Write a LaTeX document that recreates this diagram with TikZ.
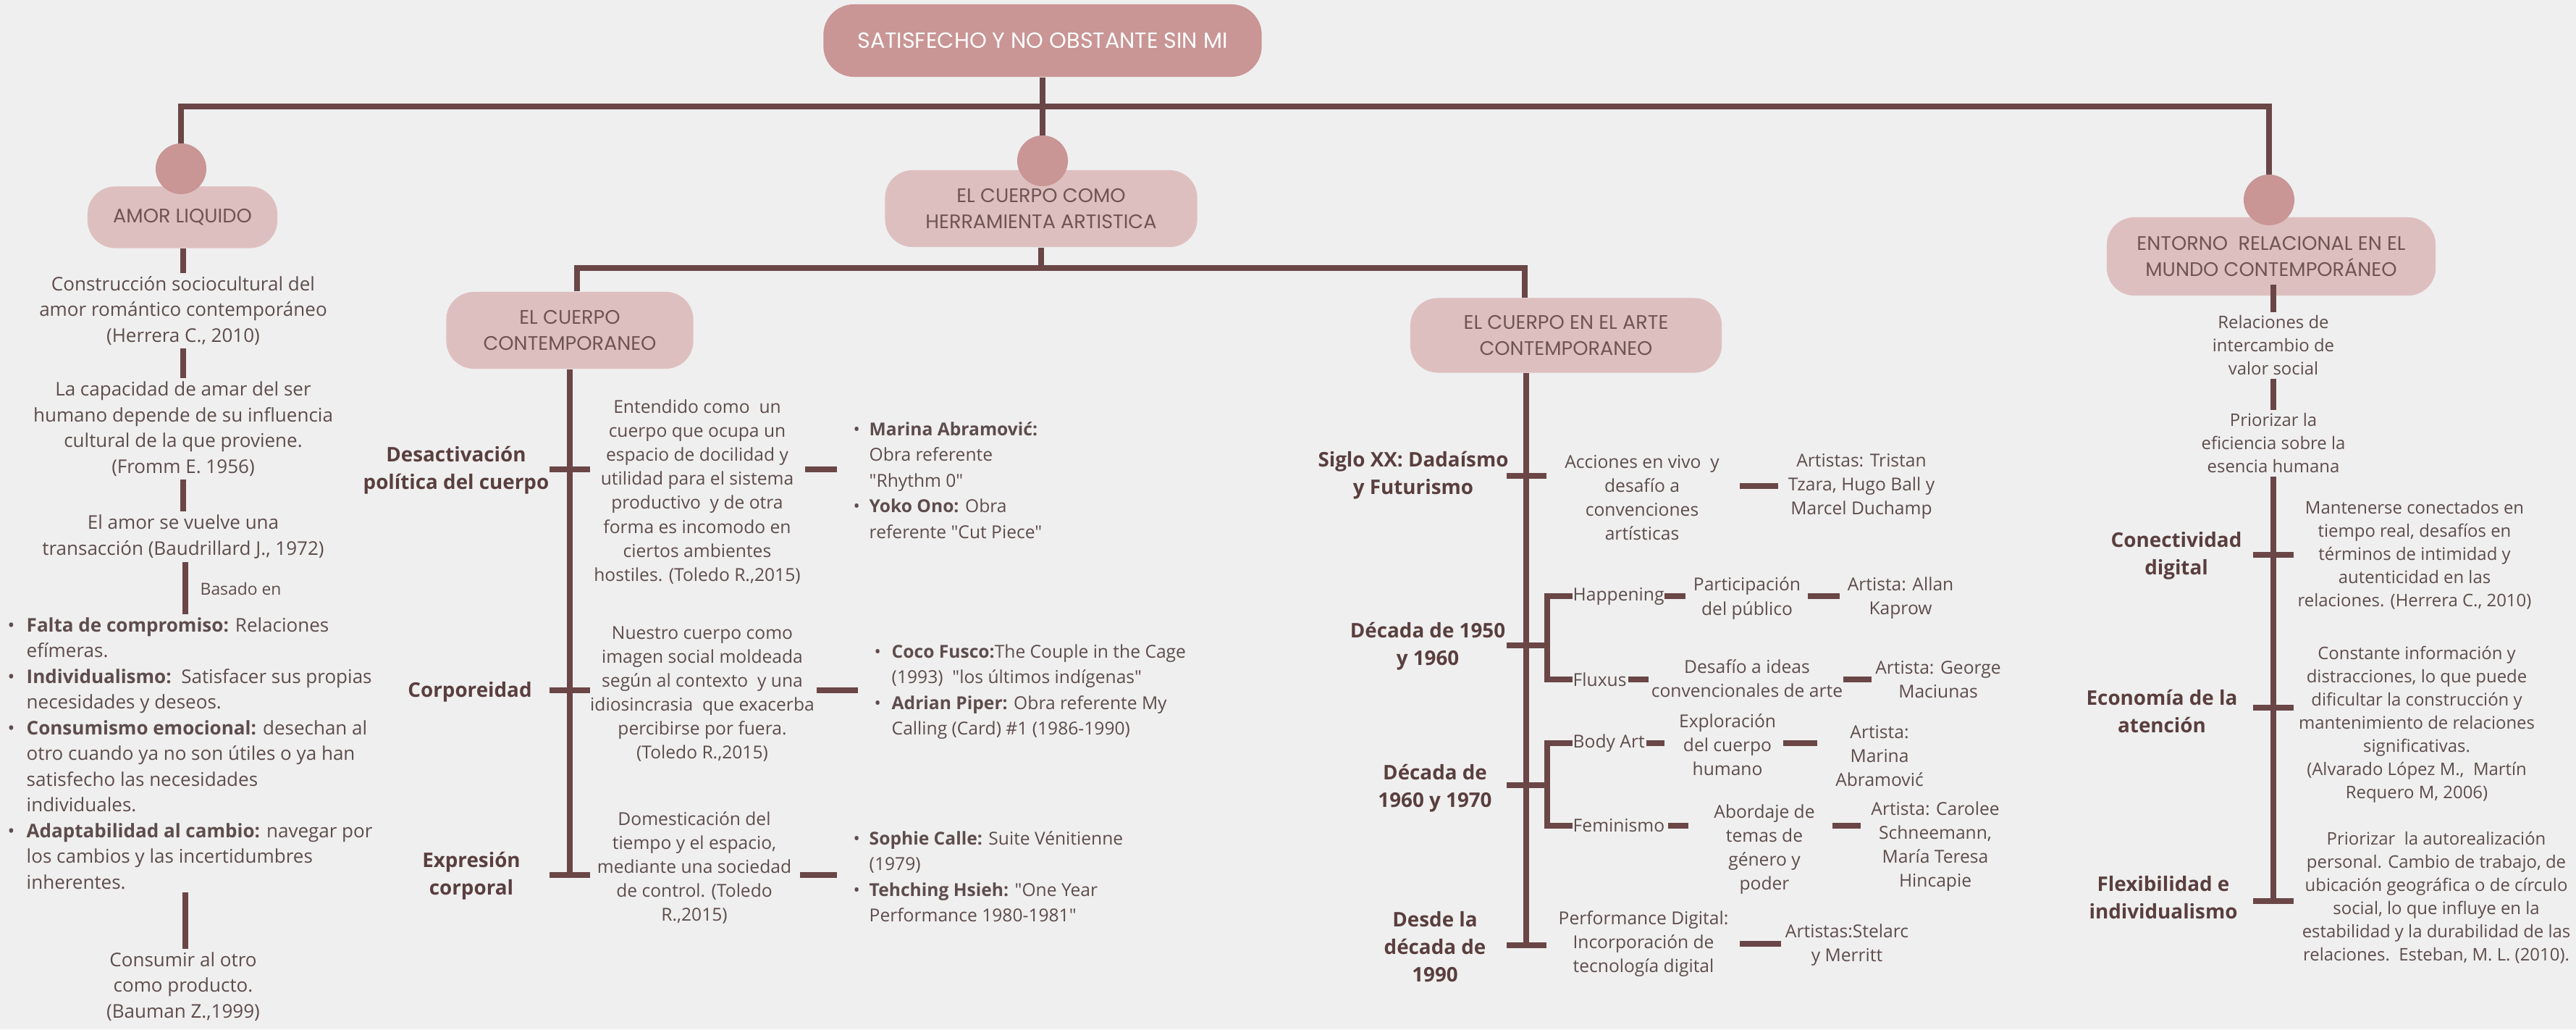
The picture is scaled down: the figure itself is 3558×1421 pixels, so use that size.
\documentclass[tikz,border=0pt]{standalone}
\usepackage{fontspec}
\setmainfont{Open Sans}[Ligatures=TeXOff]
\newfontfamily\titulofont{Poppins}
\definecolor{fondo}{RGB}{239,239,239}
\definecolor{rosaosc}{RGB}{201,149,149}
\definecolor{rosacla}{RGB}{222,191,191}
\definecolor{linea}{RGB}{106,70,70}
\definecolor{texto}{RGB}{94,76,76}
\definecolor{textobox}{RGB}{112,84,84}
\definecolor{textoetiq}{RGB}{90,62,62}
\newcommand{\vineta}[1][0.26cm]{\makebox[#1][l]{\textbullet}}
\newcommand{\sangria}[1][0.26cm]{\hspace*{#1}}

\begin{document}
\begin{tikzpicture}[x=0.01cm,y=-0.01cm,
	raiz/.style={fill=rosaosc,text=white,rounded corners=0.42cm,minimum width=6.05cm,minimum height=1cm,inner sep=0pt,font=\titulofont\fontsize{8.6}{9}\selectfont},
	tema/.style={fill=rosacla,text=textobox,rounded corners=0.38cm,align=center,inner sep=0pt,font=\titulofont\fontsize{7.7}{10}\selectfont},
	bola/.style={circle,fill=rosaosc,minimum size=0.7cm,inner sep=0pt},
	rama/.style={draw=linea,line width=2.1pt},
	guion/.style={draw=linea,line width=2.2pt},
	enlace/.style 2 args={guion,shorten <=#1,shorten >=#2},
	txt/.style={text=texto,align=center,inner xsep=0pt,inner ysep=0.04cm},
	izq/.style={txt,font=\fontsize{7.4}{10.1}\selectfont},
	cen/.style={txt,font=\fontsize{7}{9.4}\selectfont},
	obra/.style={txt,align=left,anchor=west,font=\fontsize{7}{10.1}\selectfont},
	der/.style={txt,font=\fontsize{6.8}{9.1}\selectfont},
	etiq/.style={txt,text=textoetiq,font=\bfseries\fontsize{7.9}{10.9}\selectfont}]

	\fill[fondo] (0,0) rectangle (3558,1421);
	\useasboundingbox (0,0) rectangle (3558,1421);

	\node[raiz] (raiz) at (1440,56) {SATISFECHO Y NO OBSTANTE SIN MI};
	\coordinate (cA) at (250,233);
	\coordinate (cB) at (1440,222);
	\coordinate (cC) at (3134,276);
	\coordinate (busI) at (250,147);
	\coordinate (busD) at (3134,147);
	\draw[rama] (cA) -- (busI) -- (busD) -- (cC);
	\draw[rama] (raiz.south) -- (cB);

	\node[tema,minimum width=2.62cm,minimum height=0.85cm] (amor) at (252,300) {AMOR LIQUIDO};
	\node[tema,minimum width=4.31cm,minimum height=1.06cm] (herram) at (1438,288) {EL CUERPO COMO\\HERRAMIENTA ARTISTICA};
	\node[tema,minimum width=4.54cm,minimum height=1.08cm] (entorno) at (3137,354) {ENTORNO\ \ RELACIONAL EN EL\\MUNDO CONTEMPORÁNEO};
	\node[bola] (bolaA) at (cA) {};
	\node[bola] (bolaB) at (cB) {};
	\node[bola] (bolaC) at (cC) {};

	\node[tema,minimum width=3.41cm,minimum height=1.06cm] (contemp) at (787,456) {EL CUERPO\\CONTEMPORANEO};
	\node[tema,minimum width=4.30cm,minimum height=1.03cm] (arte) at (2163,463) {EL CUERPO EN EL ARTE\\CONTEMPORANEO};
	\coordinate (sbI) at (797,370);
	\coordinate (sbD) at (2106,370);
	\draw[rama] (herram.south) -- (herram.south |- sbI);
	\draw[rama] (contemp.north -| sbI) -- (sbI) -- (sbD) -- (arte.north -| sbD);

	\node[izq] (amor1) at (253,429) {Construcción sociocultural del\\amor romántico contemporáneo\\(Herrera C., 2010)};
	\node[izq] (amor2) at (253,592) {La capacidad de amar del ser\\humano depende de su influencia\\cultural de la que proviene.\\(Fromm E. 1956)};
	\node[izq] (amor3) at (253,741) {El amor se vuelve una\\transacción (Baudrillard J., 1972)};
	\node[izq,align=left,anchor=west] (lista) at (10,1040) {\vineta\textbf{Falta de compromiso:} Relaciones\\\sangria efímeras.\\\vineta\textbf{Individualismo:}\ \ Satisfacer sus propias\\\sangria necesidades y deseos.\\\vineta\textbf{Consumismo emocional:} desechan al\\\sangria otro cuando ya no son útiles o ya han\\\sangria satisfecho las necesidades\\\sangria individuales.\\\vineta\textbf{Adaptabilidad al cambio:} navegar por\\\sangria los cambios y las incertidumbres\\\sangria inherentes.};
	\node[izq] (amor4) at (253,1362) {Consumir al otro\\como producto.\\(Bauman Z.,1999)};
	\node[txt,anchor=west,font=\fontsize{6.5}{8}\selectfont] (basado) at (276,813) {Basado en};
	\draw[rama] (amor1.north |- amor.south) -- (amor1.north);
	\draw[rama] (amor1.south) -- (amor2.north);
	\draw[rama] (amor2.south) -- (amor3.north);
	\draw[rama] ([xshift=0.03cm]amor3.south) -- ([xshift=0.03cm]amor3.south |- lista.north);
	\draw[rama] ([xshift=0.03cm]amor4.north |- lista.south) -- ([xshift=0.03cm]amor4.north);

	\coordinate (f1) at (787,648);
	\coordinate (f2) at (787,953);
	\coordinate (f3) at (787,1208);
	\draw[rama] (contemp.south) -- (f3);
	\foreach \f in {f1,f2,f3}
		\draw[guion] ([xshift=-0.28cm]\f) -- ([xshift=0.28cm]\f);
	\node[etiq] (desact) at (630,649) {Desactivación\\política del cuerpo};
	\node[etiq] (corpor) at (649,955) {Corporeidad};
	\node[etiq] (expres) at (651,1209) {Expresión\\corporal};
	\node[cen] (docil) at (963,679) {Entendido como\ \ un\\cuerpo que ocupa un\\espacio de docilidad y\\utilidad para el sistema\\productivo\ \ y de otra\\forma es incomodo en\\ciertos ambientes\\hostiles. (Toledo R.,2015)};
	\node[cen] (imagen) at (970,958) {Nuestro cuerpo como\\imagen social moldeada\\según al contexto\ \ y una\\idiosincrasia\ \ que exacerba\\percibirse por fuera.\\(Toledo R.,2015)};
	\node[cen] (domest) at (959,1198) {Domesticación del\\tiempo y el espacio,\\mediante una sociedad\\de control. (Toledo\\R.,2015)};
	\node[obra] (obras1) at (1178,663) {\vineta[0.22cm]\textbf{Marina Abramović:}\\\sangria[0.22cm]Obra referente\\\sangria[0.22cm]"Rhythm 0"\\\vineta[0.22cm]\textbf{Yoko Ono:} Obra\\\sangria[0.22cm]referente "Cut Piece"};
	\node[obra] (obras2) at (1207,955) {\vineta[0.24cm]\textbf{Coco Fusco:}The Couple in the Cage\\\sangria[0.24cm](1993)\ \ "los últimos indígenas"\\\vineta[0.24cm]\textbf{Adrian Piper:} Obra referente My\\\sangria[0.24cm]Calling (Card) \#1 (1986-1990)};
	\node[obra] (obras3) at (1178,1210) {\vineta[0.22cm]\textbf{Sophie Calle:} Suite Vénitienne\\\sangria[0.22cm](1979)\\\vineta[0.22cm]\textbf{Tehching Hsieh:} "One Year\\\sangria[0.22cm]Performance 1980-1981"};
	\draw[enlace={0.06cm}{0.22cm}] (docil.east |- f1) -- (obras1.west |- f1);
	\draw[enlace={0.02cm}{0.22cm}] (imagen.east |- f2) -- (obras2.west |- f2);
	\draw[enlace={0.11cm}{0.22cm}] (domest.east |- f3) -- (obras3.west |- f3);

	\coordinate (h1) at (2108,657);
	\coordinate (h2) at (2108,891);
	\coordinate (h3) at (2108,1084);
	\coordinate (h4) at (2108,1305);
	\coordinate (k2) at (2137,891);
	\coordinate (k3) at (2137,1084);
	\draw[rama] (arte.south -| h1) -- (h4);
	\foreach \h in {h1,h2,h3,h4}
		\draw[guion] ([xshift=-0.27cm]\h) -- ([xshift=0.28cm]\h);
	\node[etiq] (siglo) at (1952,656) {Siglo XX: Dadaísmo\\y Futurismo};
	\node[etiq] (dec50) at (1972,892) {Década de 1950\\y 1960};
	\node[etiq] (dec60) at (1982,1088) {Década de\\1960 y 1970};
	\node[etiq] (desde) at (1982,1307) {Desde la\\década de\\1990};
	\node[cen,anchor=west,inner ysep=0pt] (happ) at (2172,823) {Happening};
	\node[cen,anchor=west,inner ysep=0pt] (flux) at (2172,938) {Fluxus};
	\node[cen,anchor=west,inner ysep=0pt] (body) at (2172,1026) {Body Art};
	\node[cen,anchor=west,inner ysep=0pt] (femin) at (2172,1140) {Feminismo};
	\draw[rama] (happ.west) -| (k2) |- (flux.west);
	\draw[rama] (body.west) -| (k3) |- (femin.west);
	\node[cen] (acciones) at (2268,687) {Acciones en vivo\ \ y\\desafío a\\convenciones\\artísticas};
	\node[cen] (tristan) at (2571,671) {Artistas: Tristan\\Tzara, Hugo Ball y\\Marcel Duchamp};
	\node[cen] (partic) at (2413,826) {Participación\\del público};
	\node[cen] (kaprow) at (2625,826) {Artista: Allan\\Kaprow};
	\node[cen] (desafio) at (2413,937) {Desafío a ideas\\convencionales de arte};
	\node[cen] (macia) at (2677,938) {Artista: George\\Maciunas};
	\node[cen] (explor) at (2386,1028) {Exploración\\del cuerpo\\humano};
	\node[cen] (marina) at (2596,1044) {Artista:\\Marina\\Abramović};
	\node[cen] (abord) at (2437,1173) {Abordaje de\\temas de\\género y\\poder};
	\node[cen] (carolee) at (2673,1169) {Artista: Carolee\\Schneemann,\\María Teresa\\Hincapie};
	\node[cen] (perfdig) at (2270,1303) {Performance Digital:\\Incorporación de\\tecnología digital};
	\node[cen] (stelarc) at (2551,1305) {Artistas:Stelarc\\y Merritt};
	\draw[enlace={0.28cm}{0.13cm}] (acciones.east |- tristan) -- (tristan.west);
	\draw[enlace={0cm}{0.10cm}] (happ.east) -- (partic.west |- happ.east);
	\draw[enlace={0.09cm}{0.10cm}] (partic.east |- happ) -- (kaprow.west |- happ);
	\draw[enlace={0.02cm}{0.03cm}] (flux.east) -- (desafio.west |- flux.east);
	\draw[enlace={0cm}{0.05cm}] (desafio.east |- flux) -- (macia.west |- flux);
	\draw[enlace={0.02cm}{0.19cm}] (body.east) -- (explor.west |- body.east);
	\draw[enlace={0.09cm}{0.25cm}] (explor.east |- body) -- (marina.west |- body);
	\draw[enlace={0.04cm}{0.35cm}] (femin.east) -- (abord.west |- femin.east);
	\draw[enlace={0.24cm}{0.14cm}] (abord.east |- femin) -- (carolee.west |- femin);
	\draw[enlace={0.15cm}{0.05cm}] (perfdig.east) -- (stelarc.west |- perfdig.east);

	\node[der] (relac) at (3140,477) {Relaciones de\\intercambio de\\valor social};
	\node[der] (prior) at (3140,612) {Priorizar la\\eficiencia sobre la\\esencia humana};
	\coordinate (g1) at (3140,766);
	\coordinate (g2) at (3140,977);
	\coordinate (g3) at (3140,1244);
	\draw[rama] (relac.north |- entorno.south) ++(0,-16) -- (relac.north);
	\draw[rama] (relac.south) -- (prior.north);
	\draw[rama] (prior.south) -- (g3);
	\foreach \g in {g1,g2,g3}
		\draw[guion] ([xshift=-0.28cm]\g) -- ([xshift=0.28cm]\g);
	\node[etiq] (conect) at (3006,767) {Conectividad\\digital};
	\node[etiq] (econ) at (2986,982) {Economía de la\\atención};
	\node[etiq] (flexib) at (2988,1239) {Flexibilidad e\\individualismo};
	\node[der] (manten) at (3335,766) {Mantenerse conectados en\\tiempo real, desafíos en\\términos de intimidad y\\autenticidad en las\\relaciones. (Herrera C., 2010)};
	\node[der] (constan) at (3338,1000) {Constante información y\\distracciones, lo que puede\\dificultar la construcción y\\mantenimiento de relaciones\\significativas.\\(Alvarado López M.,\ \ Martín\\Requero M, 2006)};
	\node[der] (autor) at (3365,1239) {Priorizar\ \ la autorealización\\personal. Cambio de trabajo, de\\ubicación geográfica o de círculo\\social, lo que influye en la\\estabilidad y la durabilidad de las\\relaciones.\ \ Esteban, M. L. (2010).};
\end{tikzpicture}
\end{document}
